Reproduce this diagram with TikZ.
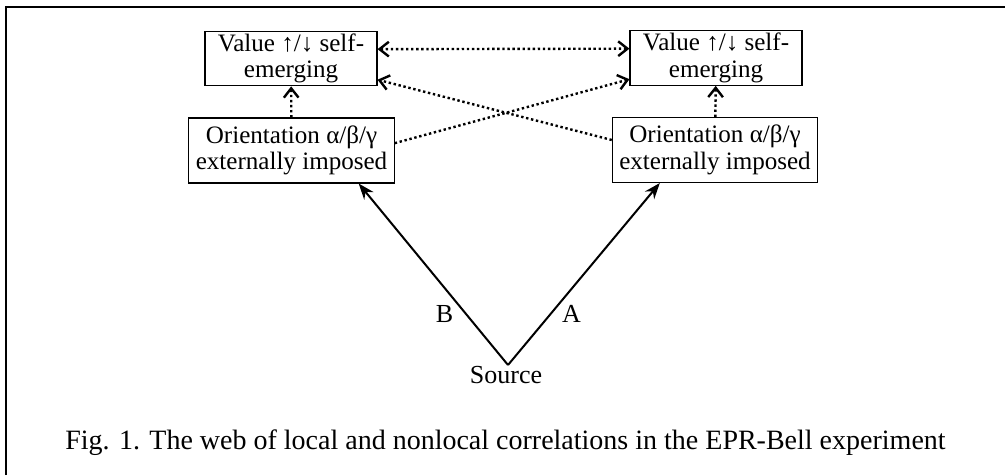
\documentclass[tikz,border=0pt]{standalone}
\usepackage{fontspec}
\setmainfont{Liberation Serif}
\usetikzlibrary{arrows.meta,positioning}
\begin{document}
\begin{tikzpicture}[x=0.75pt,y=-0.75pt,
	valbox/.style={draw,line width=0.8pt,minimum width=129pt,minimum height=41pt,inner sep=0pt,align=center,font=\fontsize{18.8}{20}\selectfont},
	oribox/.style={draw,line width=0.8pt,minimum width=154pt,minimum height=48.75pt,inner sep=0pt,align=center,font=\fontsize{18.8}{20}\selectfont},
	corr/.style={line width=1.8pt,dotted,-{Straight Barb[length=7pt,width=11pt]}},
	ray/.style={line width=1.5pt,-{Stealth[length=12pt,width=9pt]}},
	lbl/.style={inner sep=0pt,font=\fontsize{19.5}{21}\selectfont}]
		\useasboundingbox (0,0) rectangle (1005,475);
		\draw[line width=1.8pt] (6,475) -- (6,7) -- (1005,7);
		%boxes
		\node[valbox] (valL) at (291,58.5) {Value ↑/↓ self-\\emerging};
		\node[valbox] (valR) at (716,58) {Value ↑/↓ self-\\emerging};
		\node[oribox] (oriL) at (291.5,150.5) {Orientation α/β/γ\\externally imposed};
		\node[oribox] (oriR) at (715,150) {Orientation α/β/γ\\externally imposed};
		\node[lbl,anchor=base] (src) at (506,383) {Source};
		\coordinate (apex) at (508,365);
		%nonlocal correlations
		\draw[corr] (oriL) -- (valL);
		\draw[corr] (oriR) -- (valR);
		\draw[corr,{Straight Barb[length=7pt,width=11pt]}-{Straight Barb[length=7pt,width=11pt]}] ([yshift=7pt]valL.east) -- ([yshift=7pt]valR.east -| valR.west);
		\draw[corr] ([yshift=5.5pt]oriL.east) -- ([yshift=5pt]valR.south west);
		\draw[corr] ([yshift=7.5pt]oriR.west) -- ([yshift=5pt]valL.south east);
		%particles
		\draw[ray] (apex) -- node[lbl,pos=0.28,left=9pt] (labB) {B} ([xshift=-27pt]oriL.south east);
		\draw[ray] (apex) -- node[lbl,pos=0.28,right=8pt] (labA) {A} ([xshift=36pt]oriR.south west);
		\node[anchor=base,inner sep=0pt,font=\fontsize{21}{24}\selectfont] (caption) at (505.5,449) {Fig. 1. The web of local and nonlocal correlations in the EPR-Bell experiment};
\end{tikzpicture}
\end{document}
